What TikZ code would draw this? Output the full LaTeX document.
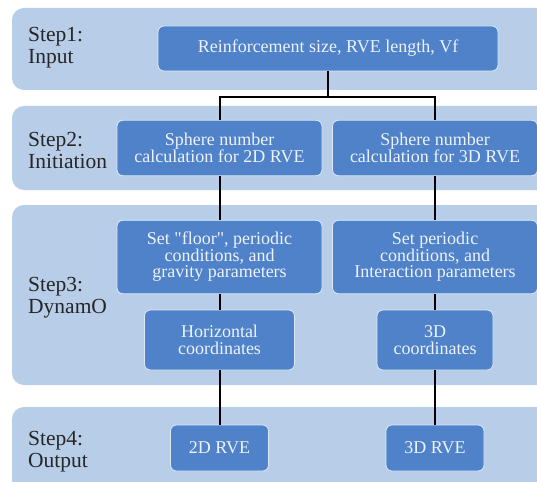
\documentclass[tikz,border=0pt]{standalone}
\usepackage{fontspec}
\setmainfont{Liberation Serif}
\definecolor{bandblue}{RGB}{183,205,232}
\definecolor{boxblue}{RGB}{79,130,200}
\definecolor{boxline}{RGB}{222,233,247}
\definecolor{boxtext}{RGB}{238,243,251}
\newcommand{\boxfont}{\rmfamily\fontsize{18}{16.5}\selectfont}
\newcommand{\labelfont}{\rmfamily\fontsize{21.5}{21.6}\selectfont}
\tikzstyle{every node}=[font=\boxfont]
\tikzstyle{band}=[fill=bandblue,rounded corners=12pt]
\tikzstyle{box}=[draw=boxline,line width=0.8pt,fill=boxblue,rounded corners=6pt,
  text=boxtext,align=center,inner sep=0pt]
\tikzstyle{steplabel}=[font=\labelfont,text=black!85,align=left,anchor=base west,inner sep=0pt]
\tikzstyle{link}=[line width=2pt,black]

\begin{document}
\begin{tikzpicture}[x=1pt,y=-1pt]
  \clip (0,0) rectangle (537,481);
  \fill[white] (0,0) rectangle (537,481);
  % the four step bands
  \fill[band] (12,8) rectangle (560,90);
  \fill[band] (12,106) rectangle (560,190);
  \fill[band] (12,205) rectangle (560,385);
  \fill[band] (12,407) rectangle (560,495);
  \node[steplabel] (lab1) at (28,63.3) {Step1:\\Input};
  \node[steplabel] (lab2) at (28,168.5) {Step2:\\Initiation};
  \node[steplabel] (lab3) at (28,313) {Step3:\\DynamO};
  \node[steplabel] (lab4) at (28,467) {Step4:\\Output};
  % boxes
  \node[box,minimum width=340pt,minimum height=45pt] (input) at (328,48.5)
       {Reinforcement size, RVE length, Vf};
  \node[box,minimum width=205pt,minimum height=55.5pt] (sph2d) at (219.5,148)
       {Sphere number\\calculation for 2D RVE};
  \node[box,minimum width=205pt,minimum height=55.5pt] (sph3d) at (435,148)
       {Sphere number\\calculation for 3D RVE};
  \node[box,minimum width=205pt,minimum height=73.5pt] (set2d) at (219.5,257)
       {Set \textquotedbl floor\textquotedbl, periodic\\conditions, and\\gravity parameters};
  \node[box,minimum width=205pt,minimum height=73.5pt] (set3d) at (435,257)
       {Set periodic\\conditions, and\\Interaction parameters};
  \node[box,minimum width=150pt,minimum height=60pt] (hor2d) at (219.5,340)
       {Horizontal\\coordinates};
  \node[box,minimum width=116pt,minimum height=60pt] (crd3d) at (435,340)
       {3D\\coordinates};
  \node[box,minimum width=98pt,minimum height=46pt] (rve2d) at (219.5,448) {2D RVE};
  \node[box,minimum width=98pt,minimum height=46pt] (rve3d) at (435,448) {3D RVE};
  % connectors
  \coordinate (split) at (328,97);
  \draw[link] (input) -- (split);
  \draw[link] (split) -| (sph2d);
  \draw[link] (split) -| (sph3d);
  \draw[link] (sph2d) -- (set2d);
  \draw[link] (sph3d) -- (set3d);
  \draw[link] (set2d) -- (hor2d);
  \draw[link] (set3d) -- (crd3d);
  \draw[link] (hor2d) -- (rve2d);
  \draw[link] (crd3d) -- (rve3d);
\end{tikzpicture}
\end{document}
